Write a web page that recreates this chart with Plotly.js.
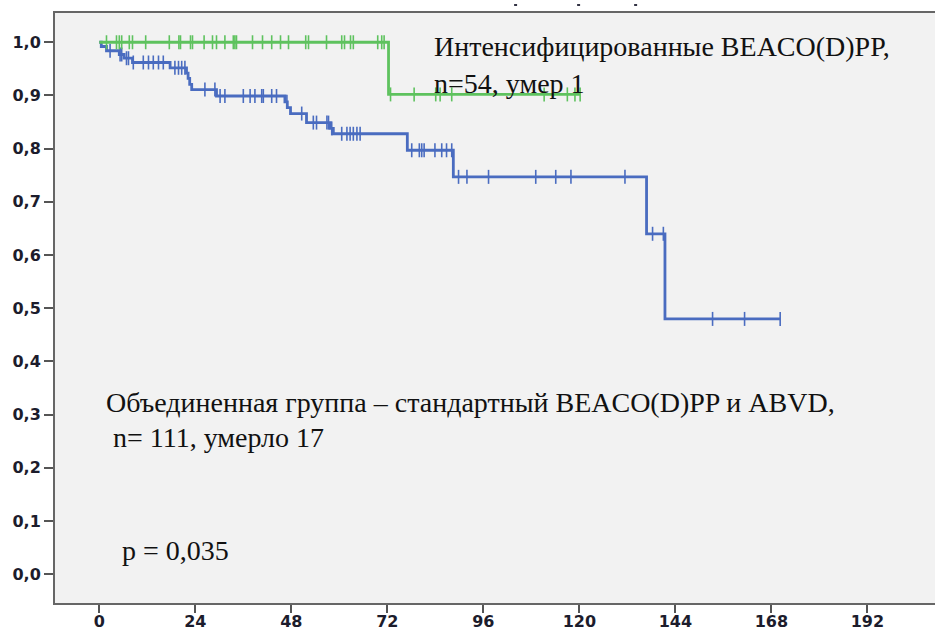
<!DOCTYPE html>
<html>
<head>
<meta charset="utf-8">
<script src="https://cdn.plot.ly/plotly-3.0.1.min.js"></script>
<style>
  html, body { margin: 0; padding: 0; background: #ffffff; }
  #chart { width: 935px; height: 630px; }
</style>
</head>
<body>
<div id="chart"></div>
<script>
// ---- Data (months, cumulative survival) ----
// Blue: combined group (standard BEACO(D)PP and ABVD)
const blueEventTimes = [0.5, 1.8, 5.0, 6.2, 8.3, 17.7, 21.8, 22.2, 22.6, 23.1, 29.3, 46.4, 47.0, 47.8, 51.8, 57.7, 58.5, 77.0, 88.5, 136.8, 141.4];
const blueEventSurv  = [0.992, 0.984, 0.977, 0.970, 0.962, 0.952, 0.942, 0.932, 0.921, 0.911, 0.899, 0.888, 0.877, 0.866, 0.849, 0.838, 0.828, 0.797, 0.747, 0.640, 0.480];
const blueCensorTimes = [2.7, 5.2, 5.6, 6.8, 7.3, 8.5, 11.0, 12.3, 13.5, 14.8, 16.0, 18.9, 19.8, 20.6, 21.4,
  26.4, 28.9, 30.2, 31.4, 36.0, 37.7, 38.9, 40.6, 41.0, 43.1, 44.3, 46.9, 50.6, 53.5, 54.3, 56.9, 57.3,
  58.1, 60.6, 61.9, 62.7, 63.5, 64.4, 65.2, 78.1, 80.0, 80.6, 81.2, 83.9, 85.6, 86.8, 88.1,
  89.8, 91.9, 97.3, 109.1, 114.1, 117.9, 131.4, 138.3, 141.0, 153.3, 161.3, 170.2];

// Green: intensified BEACO(D)PP
const greenEventTimes = [72.3];
const greenEventSurv  = [0.902];
const greenCensorTimes = [1.8, 4.3, 5.0, 5.6, 7.5, 8.3, 11.6, 17.5, 19.9, 20.3, 22.8, 23.3, 26.2, 28.3, 29.3,
  31.4, 33.5, 33.9, 34.3, 38.3, 40.8, 43.1, 45.3, 47.3, 51.6, 52.3, 56.8, 60.6, 61.3, 62.8, 63.5,
  69.6, 70.6, 71.2, 72.8, 78.7, 84.1, 85.2, 88.1, 111.2, 117.0, 118.9, 120.2];

const xTickVals = [0, 24, 48, 72, 96, 120, 144, 168, 192];
const xTickText = ['0', '24', '48', '72', '96', '120', '144', '168', '192'];
const yTickVals = [0, 0.1, 0.2, 0.3, 0.4, 0.5, 0.6, 0.7, 0.8, 0.9, 1.0];
const yTickText = ['0,0', '0,1', '0,2', '0,3', '0,4', '0,5', '0,6', '0,7', '0,8', '0,9', '1,0'];

const labelGreen1 = 'Интенсифицированные BEACO(D)PP,';
const labelGreen2 = 'n=54, умер 1';
const labelBlue1 = 'Объединенная группа – стандартный BEACO(D)PP и ABVD,';
const labelBlue2 = ' n= 111, умерло 17';
const labelP = 'p = 0,035';

// ---- Helpers ----
function survAt(t, times, surv) {
  let s = 1.0;
  for (let i = 0; i < times.length; i++) { if (times[i] <= t) s = surv[i]; }
  return s;
}
function stepPath(times, surv, endT) {
  const xs = [0], ys = [1.0];
  for (let i = 0; i < times.length; i++) { xs.push(times[i]); ys.push(surv[i]); }
  xs.push(endT); ys.push(surv[surv.length - 1]);
  return {x: xs, y: ys};
}

const blueColor = '#4a6cc0';
const greenColor = '#5ec25e';

const blueEnd = Math.max(...blueCensorTimes);
const greenEnd = Math.max(...greenCensorTimes);
const bp = stepPath(blueEventTimes, blueEventSurv, blueEnd);
const gp = stepPath(greenEventTimes, greenEventSurv, greenEnd);

const traces = [
  {x: bp.x, y: bp.y, mode: 'lines', line: {shape: 'hv', color: blueColor, width: 2.8}, hoverinfo: 'skip'},
  {x: blueCensorTimes, y: blueCensorTimes.map(t => survAt(t, blueEventTimes, blueEventSurv)),
   mode: 'markers', marker: {symbol: 'line-ns', size: 10, line: {color: blueColor, width: 1.6}}, hoverinfo: 'skip'},
  {x: gp.x, y: gp.y, mode: 'lines', line: {shape: 'hv', color: greenColor, width: 2.8}, hoverinfo: 'skip'},
  {x: greenCensorTimes, y: greenCensorTimes.map(t => survAt(t, greenEventTimes, greenEventSurv)),
   mode: 'markers', marker: {symbol: 'line-ns', size: 10, line: {color: greenColor, width: 1.6}}, hoverinfo: 'skip'}
];

const textFont = {family: '"Liberation Serif", "Times New Roman", serif', size: 28, color: '#111'};
function ann(text, x, y) {
  return {text: text, x: x, y: y, xref: 'x', yref: 'y', xanchor: 'left', yanchor: 'middle',
          showarrow: false, font: textFont, borderpad: 0};
}

const tickFont = {family: '"DejaVu Sans", Verdana, sans-serif', size: 16, color: '#1c1c2c', weight: 'bold'};

const layout = {
  width: 935, height: 630,
  margin: {l: 55, r: 0, t: 13, b: 27, pad: 0},
  paper_bgcolor: '#ffffff',
  plot_bgcolor: '#f2f2f2',
  showlegend: false,
  xaxis: {
    range: [-11.07, 208.9], tickvals: xTickVals, ticktext: xTickText,
    showgrid: false, zeroline: false, showline: true, mirror: true,
    linecolor: '#666', linewidth: 2, ticks: 'outside', ticklen: 8, tickwidth: 2, tickcolor: '#555',
    ticklabelstandoff: -5,
    tickfont: tickFont, fixedrange: true
  },
  yaxis: {
    range: [-0.054, 1.055], tickvals: yTickVals, ticktext: yTickText,
    showgrid: false, zeroline: false, showline: true, mirror: false,
    linecolor: '#666', linewidth: 2, ticks: 'outside', ticklen: 9, tickwidth: 2, tickcolor: '#555',
    tickfont: tickFont, fixedrange: true
  },
  annotations: [
    ann(labelGreen1, 83.3, 0.9915),
    ann(labelGreen2, 83.3, 0.9222),
    ann(labelBlue1, 1.4, 0.322),
    ann(labelBlue2, 1.4, 0.258),
    ann(labelP, 5.4, 0.045)
  ],
  shapes: [
    {type: 'line', xref: 'paper', yref: 'paper', x0: 0.5217, x1: 0.5251, y0: 1.0136, y1: 1.0136, line: {color: '#334', width: 2}},
    {type: 'line', xref: 'paper', yref: 'paper', x0: 0.5933, x1: 0.5967, y0: 1.0136, y1: 1.0136, line: {color: '#334', width: 2}},
    {type: 'line', xref: 'paper', yref: 'paper', x0: 0.6581, x1: 0.6615, y0: 1.0136, y1: 1.0136, line: {color: '#334', width: 2}}
  ]
};

Plotly.newPlot('chart', traces, layout, {staticPlot: true, displayModeBar: false});
</script>
</body>
</html>
